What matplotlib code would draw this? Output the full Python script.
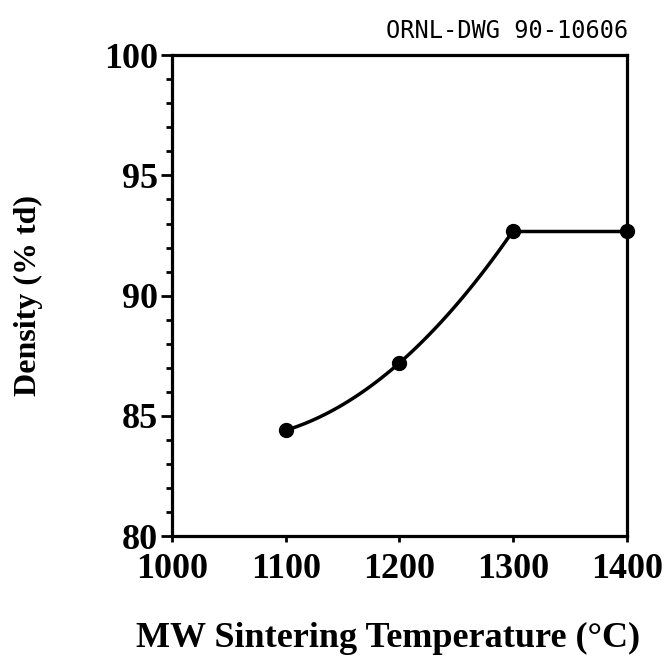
import numpy as np
import matplotlib.pyplot as plt
from matplotlib.ticker import MultipleLocator

# MW sintering: temperature vs density
temp = [1100, 1200, 1300, 1400]
density = [84.4, 87.2, 92.7, 92.7]

fig = plt.figure(figsize=(6.64, 6.57), dpi=100)
ax = fig.add_axes([0.259, 0.184, 0.685, 0.732])

# smooth guide curve through first three points, flat after 1300
c = np.polyfit(temp[:3], density[:3], 2)
xs = np.linspace(temp[0], temp[2], 100)
ax.plot(xs, np.polyval(c, xs), color="black", lw=2.5)
ax.plot(temp[2:], density[2:], color="black", lw=2.5)
ax.plot(temp, density, "o", color="black", ms=10, clip_on=False, zorder=5)

ax.set_xlim(1000, 1400)
ax.set_ylim(80, 100)
ax.xaxis.set_major_locator(MultipleLocator(100))
ax.yaxis.set_major_locator(MultipleLocator(5))
ax.yaxis.set_minor_locator(MultipleLocator(1))

for s in ax.spines.values():
    s.set_linewidth(2.3)

serif = "Liberation Serif"
ax.tick_params(axis="y", which="major", direction="out", length=8, width=2, pad=2)
ax.tick_params(axis="y", which="minor", direction="out", length=4, width=2)
ax.tick_params(axis="x", which="major", direction="out", length=4, width=2, pad=8)
for lab in ax.get_xticklabels() + ax.get_yticklabels():
    lab.set_fontfamily(serif)
    lab.set_fontweight("bold")
    lab.set_fontsize(26)

ax.set_xlabel("MW Sintering Temperature (°C)", fontfamily=serif, fontweight="bold",
              fontsize=26)
ax.xaxis.set_label_coords(0.474, -0.178)
ax.set_ylabel("Density (% td)", fontfamily=serif, fontweight="bold",
              fontsize=23, labelpad=44)

fig.text(0.946, 0.953, "ORNL-DWG 90-10606", fontfamily="DejaVu Sans Mono",
         fontsize=17, ha="right", va="center")

fig.savefig("out.png", dpi=100)
